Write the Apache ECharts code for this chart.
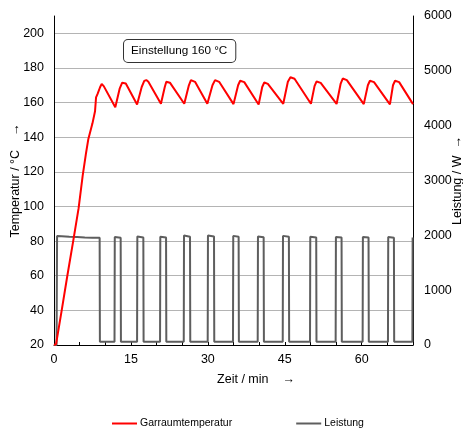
<!DOCTYPE html>
<html>
<head>
<meta charset="utf-8">
<script src="https://cdn.jsdelivr.net/npm/echarts@6/dist/echarts.min.js"></script>
<style>
  html, body { margin: 0; padding: 0; background: #fff; }
  #chart { width: 463px; height: 430px; }
</style>
</head>
<body>
<div id="chart"></div>
<script>
// Garraumtemperatur (°C) über Zeit (min)
const tempTime = [0, 0.4, 1.5, 2.6, 3.8, 4.8, 5.6, 6.2, 6.7, 7.5, 8.0, 8.2, 8.5, 9.0, 9.3, 9.7, 11.95,
  12.8, 13.3, 13.6, 14.0, 16.2,
  17.1, 17.6, 18.0, 18.4, 20.85,
  21.6, 21.9, 22.15, 22.6, 25.4,
  26.3, 26.7, 27.0, 27.5, 29.9,
  30.9, 31.4, 31.7, 32.2, 35.0,
  35.9, 36.3, 36.6, 37.1, 39.9,
  40.6, 41.0, 41.2, 41.7, 44.7,
  45.6, 46.1, 46.4, 46.9, 50.1,
  50.8, 51.2, 51.5, 52.0, 55.1,
  55.9, 56.3, 56.6, 57.1, 60.4,
  61.2, 61.6, 61.9, 62.4, 65.5,
  66.1, 66.5, 66.8, 67.3, 70];
const tempValue = [20, 20.5, 40, 60, 81, 99, 118, 130, 139, 148, 155, 163, 165, 169, 170.7, 169.5, 157.3,
  168, 171.5, 172, 171, 158.9,
  169, 172.5, 173, 172, 159.3,
  169, 172, 172.6, 171.5, 159.3,
  170, 173, 173.3, 172, 159.3,
  170, 173, 173.3, 172, 159.1,
  170, 172.6, 173, 171.8, 158.9,
  169, 171.6, 172, 170.8, 159.3,
  172, 174.6, 175, 173.8, 159.3,
  169.5, 172.2, 172.6, 171.4, 159.2,
  171, 173.9, 174.3, 173, 159.1,
  170, 172.6, 173, 171.8, 159,
  170, 172.6, 173, 171.8, 159.1];

// Leistung (W) über Zeit (min)
const powerTime = [0, 0.5, 0.6, 1.5, 3, 4.5, 6, 7.5, 8.9, 8.95,
  11.8, 11.85, 13.0, 13.05,
  16.2, 16.25, 17.42, 17.47,
  20.68, 20.73, 21.85, 21.9,
  25.3, 25.35, 26.52, 26.57,
  29.97, 30.02, 31.2, 31.25,
  34.9, 34.95, 36.0, 36.05,
  39.72, 39.77, 40.88, 40.93,
  44.6, 44.65, 45.8, 45.85,
  49.92, 49.97, 51.13, 51.18,
  54.92, 54.97, 56.07, 56.12,
  60.18, 60.23, 61.33, 61.38,
  65.12, 65.17, 66.28, 66.33,
  69.88, 69.93, 70];
const powerValue = [0, 0, 1990, 1985, 1975, 1970, 1960, 1958, 1955, 60,
  60, 1970, 1955, 60,
  60, 1980, 1960, 60,
  60, 1975, 1960, 60,
  60, 1995, 1975, 60,
  60, 1995, 1980, 60,
  60, 1990, 1975, 60,
  60, 1980, 1965, 60,
  60, 1990, 1975, 60,
  60, 1975, 1960, 60,
  60, 1970, 1960, 60,
  60, 1970, 1960, 60,
  60, 1970, 1955, 60,
  60, 1960, 1960];

const xLabelStep = 15;
const seriesNames = ['Garraumtemperatur', 'Leistung'];
const noteText = 'Einstellung 160 °C';

const font = 'Liberation Sans, Arial, sans-serif';

const tempData = tempTime.map((t, i) => [t, tempValue[i]]);
const powerData = powerTime.map((t, i) => [t, powerValue[i]]);

const chart = echarts.init(document.getElementById('chart'));
chart.setOption({
  animation: false,
  textStyle: { fontFamily: font, color: '#000' },
  grid: { left: 54, right: 50, top: 16, bottom: 85, containLabel: false, outerBoundsMode: 'none' },
  legend: {
    data: seriesNames,
    left: 112,
    top: 418,
    padding: 0,
    icon: 'rect',
    itemWidth: 25,
    itemHeight: 2,
    itemGap: 64,
    textStyle: { fontFamily: font, fontSize: 10.5, color: '#000', padding: [0, 0, 0, -2] },
  },
  graphic: [
    {
      type: 'text',
      left: 123,
      top: 39,
      style: {
        text: noteText,
        font: '11.7px ' + font,
        fill: '#000',
        backgroundColor: '#fff',
        borderColor: '#333',
        borderWidth: 1,
        borderRadius: 4,
        padding: [5, 8, 5, 7],
      },
    },
  ],
  xAxis: {
    type: 'value',
    min: 0,
    max: 70,
    interval: 5,
    name: 'Zeit / min    →',
    nameLocation: 'middle',
    nameGap: 28,
    nameMoveOverlap: false,
    nameTextStyle: { fontSize: 12.5, color: '#000', padding: [0, 0, 0, 45] },
    axisLine: { lineStyle: { color: '#000', width: 1 } },
    axisTick: { inside: true, length: 3, lineStyle: { color: '#000' } },
    axisLabel: {
      fontSize: 12.5,
      color: '#000',
      margin: 8,
      formatter: v => (v % xLabelStep === 0 ? String(v) : ''),
    },
    splitLine: { show: false },
  },
  yAxis: [
    {
      type: 'value',
      min: 20,
      max: 210,
      interval: 20,
      name: 'Temperatur / °C    →',
      nameLocation: 'middle',
      nameRotate: 90,
      nameGap: 32,
      nameMoveOverlap: false,
      nameTextStyle: { fontSize: 12.5, color: '#000' },
      axisLine: { show: true, lineStyle: { color: '#000', width: 1 } },
      axisTick: { show: false },
      axisLabel: { fontSize: 12.5, color: '#000', margin: 10, showMaxLabel: false },
      splitLine: { show: true, showMaxLine: false, lineStyle: { color: '#b4b4b4', width: 1 } },
    },
    {
      type: 'value',
      min: 0,
      max: 6000,
      interval: 1000,
      position: 'right',
      name: 'Leistung / W  →',
      nameLocation: 'middle',
      nameRotate: 90,
      nameGap: 38,
      nameMoveOverlap: false,
      nameTextStyle: { fontSize: 12.5, color: '#000' },
      axisLine: { show: true, lineStyle: { color: '#000', width: 1 } },
      axisTick: { show: false },
      axisLabel: { fontSize: 12.5, color: '#000', margin: 11, formatter: v => String(v) },
      splitLine: { show: false },
    },
  ],
  series: [
    {
      name: seriesNames[1],
      type: 'line',
      yAxisIndex: 1,
      showSymbol: false,
      symbol: 'none',
      color: '#5e5e5e',
      lineStyle: { color: '#5e5e5e', width: 2 },
      data: powerData,
    },
    {
      name: seriesNames[0],
      type: 'line',
      yAxisIndex: 0,
      showSymbol: false,
      symbol: 'none',
      color: '#ff0000',
      lineStyle: { color: '#ff0000', width: 2 },
      data: tempData,
    },
  ],
});
</script>
</body>
</html>
